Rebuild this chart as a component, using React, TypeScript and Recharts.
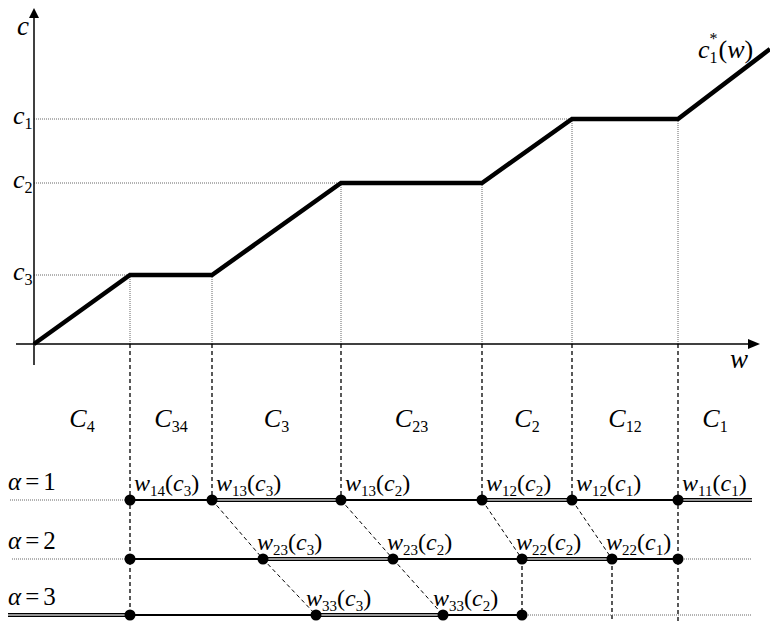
import React from "react";
import { ComposedChart, XAxis, YAxis, Line, Scatter, ReferenceLine } from "recharts";

const FONT = "Liberation Serif, Times New Roman, serif";

// Piecewise-linear curve c1*(w)
const CURVE_W = [0, 9.6, 17.8, 30.7, 44.8, 53.8, 64.4, 73.6];
const CURVE_C = [0, 6.9, 6.9, 16.1, 16.1, 22.5, 22.5, 29.5];

// c levels (c1, c2, c3) and where their dotted guide ends
const C_LEVELS = [22.5, 16.1, 6.9];
const C_LEVEL_NAMES = ["1", "2", "3"];
const C_LEVEL_END_W = [53.8, 30.7, 9.6];

// regions along w
const REGION_EDGES = [0, 9.6, 17.8, 30.7, 44.8, 53.8, 64.4, 71.8];
const REGION_NAMES = ["4", "34", "3", "23", "2", "12", "1"];

// alpha rows
const ROW_LEVELS = [-15.6, -21.5, -27.1];
const ROW_NAMES = ["1", "2", "3"];

const ROW1_W = [9.6, 17.8, 30.7, 44.8, 53.8, 64.4];
const ROW1_LABELS: (string[] | null)[] = [["14", "3"], ["13", "3"], ["13", "2"], ["12", "2"], ["12", "1"], ["11", "1"]];
const ROW2_W = [9.6, 22.9, 35.9, 48.8, 57.8, 64.4];
const ROW2_LABELS: (string[] | null)[] = [null, ["23", "3"], ["23", "2"], ["22", "2"], ["22", "1"], null];
const ROW3_W = [9.6, 28.2, 40.9, 48.8];
const ROW3_LABELS: (string[] | null)[] = [null, ["33", "3"], ["33", "2"], null];

// row line pieces: [from, to]
const ROW1_DOTTED = [[-2.4, 9.6]];
const ROW1_SOLID = [[9.6, 71.8]];
const ROW1_DOUBLE = [[17.8, 30.7], [44.8, 53.8], [64.4, 71.8]];
const ROW2_DOTTED = [[-2.2, 9.6], [64.4, 71.8]];
const ROW2_SOLID = [[9.6, 64.4]];
const ROW2_DOUBLE = [[22.9, 35.9], [48.8, 57.8]];
const ROW3_DOTTED = [[48.8, 71.8]];
const ROW3_SOLID = [[9.6, 48.8]];
const ROW3_DOUBLE = [[-2.6, 9.6], [28.2, 40.9]];

// dashed verticals [w, cTop, cBottom]
const DASHED_V = [
  [9.6, 0, -27.1],
  [17.8, 0, -15.6],
  [30.7, 0, -15.6],
  [44.8, 0, -15.6],
  [53.8, 0, -15.6],
  [64.4, 0, -27.7],
  [48.8, -21.5, -27.1],
  [57.8, -21.5, -27.7],
];

// diagonal dashed chains (w positions across rows 1..3)
const DIAGONALS = [
  [17.8, 22.9, 28.2],
  [30.7, 35.9, 40.9],
  [44.8, 48.8],
  [53.8, 57.8],
];

const W_DOMAIN: [number, number] = [-3.4, 73.6];
const C_DOMAIN: [number, number] = [-27.7, 34.4];

const curveData = CURVE_W.map((w, i) => ({ w, c: CURVE_C[i] }));

const seg = (a: number, b: number, c: number) => [
  { w: a, c },
  { w: b, c },
];

const WLabel = ({ x, y, ij, k }: any) => (
  <text x={x} y={y} fontFamily={FONT} fontSize={24} fill="#000">
    <tspan fontStyle="italic">w</tspan>
    <tspan fontSize={15} dy={5}>{ij}</tspan>
    <tspan dy={-5}>(</tspan>
    <tspan fontStyle="italic">c</tspan>
    <tspan fontSize={15} dy={5}>{k}</tspan>
    <tspan dy={-5}>)</tspan>
  </text>
);

const ROW_DX = [4, -6, -10];

const annotations = [
  { w: -1.7, c: 30.9, kind: "cAxis" },
  { w: 69.6, c: -2.4, kind: "wAxis" },
  { w: 66.4, c: 28.6, kind: "curve" },
  ...C_LEVELS.map((c, i) => ({ w: -2.1, c, kind: "cLevel", name: C_LEVEL_NAMES[i] })),
  ...REGION_NAMES.map((name, i) => ({
    w: (REGION_EDGES[i] + REGION_EDGES[i + 1]) / 2,
    c: -8.3,
    kind: "region",
    name,
  })),
  ...ROW_LEVELS.map((c, i) => ({ w: -2.6, c, kind: "alpha", name: ROW_NAMES[i] })),
];

const renderAnnotation = (p: any) => {
  const { cx, cy, payload } = p;
  switch (payload.kind) {
    case "cAxis":
      return (
        <text x={cx} y={cy} fontFamily={FONT} fontSize={27} fontStyle="italic">c</text>
      );
    case "wAxis":
      return (
        <text x={cx} y={cy} fontFamily={FONT} fontSize={27} fontStyle="italic">w</text>
      );
    case "curve":
      return (
        <text x={cx} y={cy} fontFamily={FONT} fontSize={26}>
          <tspan fontStyle="italic">c</tspan>
          <tspan fontSize={16} dy={5}>1</tspan>
          <tspan fontSize={16} dx={-8} dy={-19}>*</tspan>
          <tspan dx={1} dy={14}>(</tspan>
          <tspan fontStyle="italic">w</tspan>
          <tspan>)</tspan>
        </text>
      );
    case "cLevel":
      return (
        <text x={cx} y={cy + 5} fontFamily={FONT} fontSize={26}>
          <tspan fontStyle="italic">c</tspan>
          <tspan fontSize={16} dy={5}>{payload.name}</tspan>
        </text>
      );
    case "region":
      return (
        <text x={cx} y={cy} fontFamily={FONT} fontSize={26} textAnchor="middle">
          <tspan fontStyle="italic">C</tspan>
          <tspan fontSize={16} dy={5}>{payload.name}</tspan>
        </text>
      );
    case "alpha":
      return (
        <text x={cx} y={cy - 10} fontFamily={FONT} fontSize={25}>
          <tspan fontStyle="italic">α</tspan>
          <tspan dx={4}>=</tspan>
          <tspan dx={4}>{payload.name}</tspan>
        </text>
      );
    default:
      return <g />;
  }
};

const arrows = [
  { w: 0, c: 33.6, dir: "up" },
  { w: 72.6, c: 0, dir: "right" },
];

const renderArrow = (p: any) => {
  const { cx, cy, payload } = p;
  if (payload.dir === "up") {
    return <polygon points={`${cx},${cy} ${cx - 5},${cy + 10} ${cx + 5},${cy + 10}`} fill="#000" />;
  }
  return <polygon points={`${cx},${cy} ${cx - 12},${cy - 5} ${cx - 12},${cy + 5}`} fill="#000" />;
};

const rows = [
  { c: ROW_LEVELS[0], ws: ROW1_W, labels: ROW1_LABELS, dotted: ROW1_DOTTED, solid: ROW1_SOLID, dbl: ROW1_DOUBLE },
  { c: ROW_LEVELS[1], ws: ROW2_W, labels: ROW2_LABELS, dotted: ROW2_DOTTED, solid: ROW2_SOLID, dbl: ROW2_DOUBLE },
  { c: ROW_LEVELS[2], ws: ROW3_W, labels: ROW3_LABELS, dotted: ROW3_DOTTED, solid: ROW3_SOLID, dbl: ROW3_DOUBLE },
];

export default function App() {
  const lineEls: React.ReactNode[] = [];
  rows.forEach((r, ri) => {
    r.dotted.forEach(([a, b], i) =>
      lineEls.push(
        <Line key={`d${ri}-${i}`} data={seg(a, b, r.c)} dataKey="c" stroke="#666" strokeWidth={1} strokeDasharray="1 1" dot={false} activeDot={false} isAnimationActive={false} />
      )
    );
    r.solid.forEach(([a, b], i) =>
      lineEls.push(
        <Line key={`s${ri}-${i}`} data={seg(a, b, r.c)} dataKey="c" stroke="#000" strokeWidth={2} dot={false} activeDot={false} isAnimationActive={false} />
      )
    );
    r.dbl.forEach(([a, b], i) => {
      lineEls.push(
        <Line key={`bo${ri}-${i}`} data={seg(a, b, r.c)} dataKey="c" stroke="#000" strokeWidth={4.2} dot={false} activeDot={false} isAnimationActive={false} />
      );
      lineEls.push(
        <Line key={`bi${ri}-${i}`} data={seg(a, b, r.c)} dataKey="c" stroke="#c8c8c8" strokeWidth={1.4} dot={false} activeDot={false} isAnimationActive={false} />
      );
    });
  });

  return (
    <div style={{ position: "absolute", left: 0, top: 0, background: "#fff" }}>
      <ComposedChart width={770} height={621} margin={{ top: 0, right: 0, bottom: 0, left: 0 }}>
        <XAxis type="number" dataKey="w" domain={W_DOMAIN} allowDataOverflow hide />
        <YAxis type="number" dataKey="c" domain={C_DOMAIN} allowDataOverflow hide />

        {/* dotted guides from axis to curve */}
        {C_LEVELS.map((c, i) => (
          <ReferenceLine key={`hl${i}`} segment={[{ x: 0, y: c }, { x: C_LEVEL_END_W[i], y: c }]} stroke="#666" strokeWidth={1} strokeDasharray="1 1" />
        ))}
        {CURVE_W.slice(1, 7).map((w, i) => (
          <ReferenceLine key={`vl${i}`} segment={[{ x: w, y: CURVE_C[i + 1] }, { x: w, y: 0 }]} stroke="#666" strokeWidth={1} strokeDasharray="1 1" />
        ))}

        {/* dashed verticals */}
        {DASHED_V.map(([w, a, b], i) => (
          <ReferenceLine key={`dv${i}`} segment={[{ x: w, y: a }, { x: w, y: b }]} stroke="#000" strokeWidth={1.3} strokeDasharray="4 3" />
        ))}

        {/* diagonal dashed links between rows */}
        {DIAGONALS.map((chain, i) =>
          chain.slice(1).map((w, j) => (
            <ReferenceLine
              key={`dg${i}-${j}`}
              segment={[{ x: chain[j], y: ROW_LEVELS[j] }, { x: w, y: ROW_LEVELS[j + 1] }]}
              stroke="#000"
              strokeWidth={1}
              strokeDasharray="4 3"
            />
          ))
        )}

        {/* axes */}
        <ReferenceLine segment={[{ x: -1.8, y: 0 }, { x: 71.6, y: 0 }]} stroke="#000" strokeWidth={1.5} />
        <ReferenceLine segment={[{ x: 0, y: -2.1 }, { x: 0, y: 32.8 }]} stroke="#000" strokeWidth={1.5} />

        {lineEls}

        {/* curve */}
        <Line data={curveData} dataKey="c" stroke="#000" strokeWidth={4.5} dot={false} activeDot={false} isAnimationActive={false} />

        <Scatter data={arrows} shape={renderArrow} isAnimationActive={false} />

        {/* row dots */}
        {rows.map((r, ri) => (
          <Scatter
            key={`dots${ri}`}
            data={r.ws.map((w) => ({ w, c: r.c }))}
            shape={(p: any) => <circle cx={p.cx} cy={p.cy} r={5.5} fill="#000" />}
            isAnimationActive={false}
          />
        ))}

        {/* row labels */}
        {rows.map((r, ri) => (
          <Scatter
            key={`lbl${ri}`}
            data={r.ws.map((w, i) => ({ w, c: r.c, lab: r.labels[i] }))}
            shape={(p: any) =>
              p.payload.lab ? (
                <WLabel x={p.cx + ROW_DX[ri]} y={p.cy - 9} ij={p.payload.lab[0]} k={p.payload.lab[1]} />
              ) : (
                <g />
              )
            }
            isAnimationActive={false}
          />
        ))}

        <Scatter data={annotations} shape={renderAnnotation} isAnimationActive={false} />
      </ComposedChart>
    </div>
  );
}
